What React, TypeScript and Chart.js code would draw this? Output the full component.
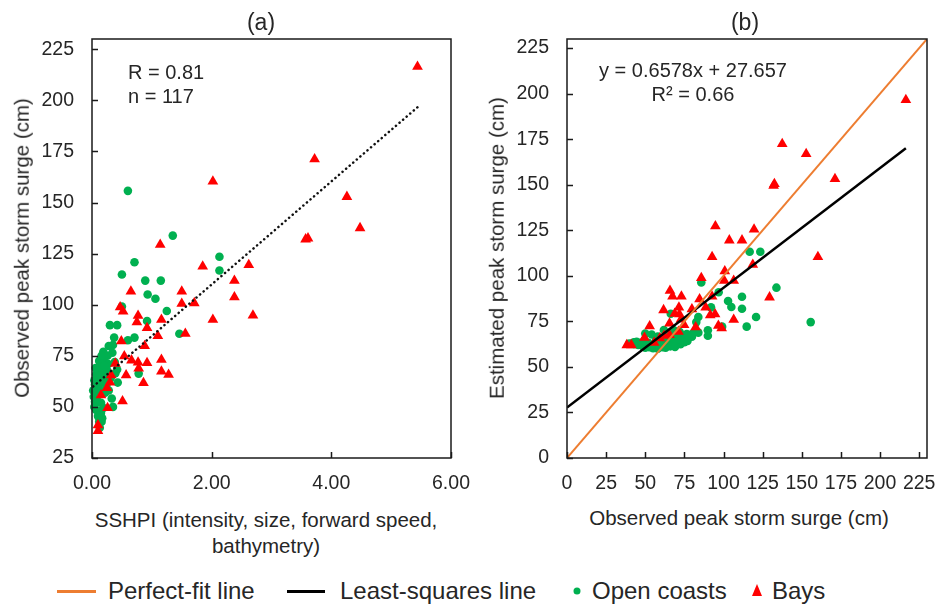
import React, { useEffect, useRef } from 'react';
import { Chart, registerables } from 'chart.js';

Chart.register(...registerables);

const FONT = '"Liberation Sans", Arial, Helvetica, sans-serif';
const INK = '#262626';
const GREEN = '#00B050';
const RED = '#FF0000';
const ORANGE = '#ED7D31';

// Open coasts: storm surge hazard potential index, observed and estimated peak surge (cm)
const openSshpi = [
  0.60, 1.35, 2.13, 2.13, 0.71, 0.50, 0.89, 1.15, 0.93, 1.06,
  1.25, 0.50, 0.92, 0.30, 0.42, 1.46, 0.37, 0.60, 0.71, 0.28,
  0.35, 0.19, 0.34, 0.26, 0.12, 0.20, 0.27, 0.38, 0.42, 0.78,
  0.25, 0.07, 0.12, 0.18, 0.43, 0.05, 0.10, 0.18, 0.22, 0.05,
  0.12, 0.08, 0.33, 0.05, 0.09, 0.15, 0.35, 0.07, 0.12, 0.15,
  0.12, 0.16, 0.13, 0.17, 0.04, 0.22, 0.28, 0.03, 0.14, 0.31,
  0.09, 0.21, 0.16, 0.04, 0.24, 0.10, 0.19, 0.06, 0.39, 0.02,
];
const openObserved = [
  155.7, 133.8, 123.5, 116.7, 120.8, 114.8, 111.8, 111.8, 105.0, 102.9,
  96.9, 99.1, 92.0, 90.0, 90.0, 85.8, 83.9, 82.6, 83.9, 79.8,
  80.3, 77.0, 76.5, 75.0, 72.5, 73.5, 71.0, 72.0, 68.3, 66.3,
  68.0, 66.0, 67.0, 65.5, 61.9, 61.0, 61.5, 62.0, 63.5, 58.7,
  58.7, 56.0, 54.1, 52.5, 53.0, 52.0, 50.0, 48.5, 48.0, 47.0,
  42.7, 42.7, 39.8, 44.5, 50.0, 57.0, 58.0, 55.0, 69.5, 64.0,
  64.5, 70.0, 75.0, 63.0, 60.5, 45.5, 49.5, 69.0, 66.5, 58.0,
];
const openEstimated = [
  74.6, 93.5, 113.2, 113.2, 77.4, 72.1, 81.9, 88.5, 82.9, 86.2,
  91.0, 72.1, 82.7, 67.1, 70.1, 96.3, 68.8, 74.6, 77.4, 66.6,
  68.3, 64.3, 68.1, 66.1, 62.5, 64.5, 66.3, 69.1, 70.1, 79.2,
  65.8, 61.3, 62.5, 64.0, 70.3, 60.8, 62.0, 64.0, 65.0, 60.8,
  62.5, 61.5, 67.8, 60.8, 61.8, 63.3, 68.3, 61.3, 62.5, 63.3,
  62.5, 63.5, 62.8, 63.8, 60.5, 65.0, 66.6, 60.3, 63.0, 67.3,
  61.8, 64.8, 63.5, 60.5, 65.6, 62.0, 64.3, 61.0, 69.3, 60.0,
];

// Bays
const baySshpi = [
  5.44, 3.72, 2.02, 4.26, 4.48, 3.57, 3.61, 1.14, 1.85, 2.62,
  2.38, 0.65, 1.50, 2.38, 1.50, 1.71, 0.47, 0.52, 2.69, 0.77,
  0.75, 1.16, 2.02, 0.92, 1.56, 1.10, 0.49, 0.88, 0.54, 0.66,
  1.16, 0.77, 0.92, 0.39, 0.78, 1.16, 1.28, 0.57, 0.32, 0.86,
  0.25, 0.15, 0.51, 0.26, 0.10, 0.10, 0.30,
];
const bayObserved = [
  216.5, 171.2, 160.3, 152.8, 137.5, 132.0, 132.5, 129.4, 118.7, 119.5,
  111.8, 106.5, 106.5, 103.7, 100.5, 100.8, 98.8, 96.7, 94.8, 94.6,
  91.5, 92.7, 92.7, 88.6, 85.8, 84.7, 82.2, 79.8, 74.8, 72.8,
  73.1, 71.8, 71.5, 71.2, 68.8, 67.4, 65.8, 65.5, 65.5, 61.7,
  59.3, 55.7, 52.8, 49.5, 41.1, 38.2, 62.0,
];
const bayEstimated = [
  196.6, 153.2, 110.4, 166.9, 172.4, 149.5, 150.5, 88.2, 106.1, 125.5,
  119.5, 75.9, 97.3, 119.5, 97.3, 102.6, 71.3, 72.6, 127.3, 78.9,
  78.4, 88.7, 110.4, 82.7, 98.8, 87.2, 71.8, 81.7, 73.1, 76.1,
  88.7, 78.9, 82.7, 69.3, 79.2, 88.7, 91.8, 73.9, 67.6, 81.2,
  65.8, 63.3, 72.4, 66.1, 62.0, 62.0, 67.1,
];

// Linear trend of observed surge against SSHPI
const trendSshpi = [0.02, 5.44];
const trendSurge = [60.0, 196.6];

// Least-squares fit of estimated against observed surge
const lsSlope = 0.6578;
const lsIntercept = 27.657;
const lsRange = [0, 216.5];
const perfectRange = [0, 230];

const sshpiTicks = [0, 2, 4, 6];
const surgeTicksA = [25, 50, 75, 100, 125, 150, 175, 200, 225];
const surgeTicksB = [0, 25, 50, 75, 100, 125, 150, 175, 200, 225];

const pairs = (xs: number[], ys: number[]) => xs.map((x, i) => ({ x, y: ys[i] }));

// Plot box with short inward tick marks
const framePlugin = {
  id: 'frame',
  afterDraw(chart: any) {
    const { ctx, chartArea } = chart;
    const { left, right, top, bottom } = chartArea;
    const xs = chart.scales.x;
    const ys = chart.scales.y;
    ctx.save();
    ctx.strokeStyle = '#1a1a1a';
    ctx.lineWidth = 1.5;
    ctx.strokeRect(left, top, right - left, bottom - top);
    ctx.beginPath();
    xs.ticks.forEach((t: any) => {
      const px = Math.round(xs.getPixelForValue(t.value)) + 0.5;
      ctx.moveTo(px, bottom);
      ctx.lineTo(px, bottom - 6);
    });
    ys.ticks.forEach((t: any) => {
      const py = Math.round(ys.getPixelForValue(t.value)) + 0.5;
      ctx.moveTo(left, py);
      ctx.lineTo(left + 6, py);
    });
    ctx.stroke();
    ctx.restore();
  },
};

function axis(kind: 'x' | 'y', min: number, max: number, ticks: number[], fmt: (v: number) => string) {
  return {
    type: 'linear',
    min,
    max,
    afterBuildTicks: (s: any) => {
      s.ticks = ticks.map((v) => ({ value: v }));
    },
    afterFit: (s: any) => {
      // fixed axis band sizes so the plot box sits where the layout padding puts it
      if (kind === 'x') s.height = 40;
      else s.width = 60;
      s.paddingLeft = 0;
      s.paddingRight = 0;
      s.paddingTop = 0;
      s.paddingBottom = 0;
    },
    grid: { display: false, drawTicks: false },
    border: { display: false },
    ticks: {
      color: INK,
      font: { family: FONT, size: 19.5 },
      padding: kind === 'x' ? 14 : 18,
      autoSkip: false,
      maxRotation: 0,
      minRotation: 0,
      callback: (v: any) => fmt(Number(v)),
    },
  };
}

function scatterSet(data: any[], style: string, color: string, radius: number, order: number) {
  return {
    data,
    showLine: false,
    pointStyle: style,
    pointRadius: radius,
    pointBackgroundColor: color,
    pointBorderWidth: 0,
    backgroundColor: color,
    borderWidth: 0,
    clip: false,
    order,
  };
}

function lineSet(data: any[], color: string, width: number, order: number, dash?: number[]) {
  return {
    data,
    showLine: true,
    borderColor: color,
    borderWidth: width,
    borderDash: dash || [],
    borderCapStyle: dash ? 'round' : 'butt',
    pointRadius: 0,
    fill: false,
    order,
  };
}

function baseOptions(padding: any, scales: any) {
  return {
    responsive: false,
    animation: false,
    events: [],
    layout: { padding },
    plugins: { legend: { display: false }, tooltip: { enabled: false } },
    scales,
  };
}

function SshpiChart() {
  const ref = useRef<HTMLCanvasElement>(null);
  useEffect(() => {
    const chart = new Chart(ref.current as HTMLCanvasElement, {
      type: 'scatter',
      data: {
        datasets: [
          lineSet(pairs(trendSshpi, trendSurge), '#111', 2.5, 0, [0.1, 4.6]),
          scatterSet(pairs(baySshpi, bayObserved), 'triangle', RED, 6.2, 1),
          scatterSet(pairs(openSshpi, openObserved), 'circle', GREEN, 4.3, 2),
        ],
      } as any,
      options: baseOptions({ left: 32, top: 39, right: 29, bottom: 2 }, {
        x: axis('x', 0, 6, sshpiTicks, (v) => v.toFixed(2)),
        y: axis('y', 25, 230, surgeTicksA, (v) => String(v)),
      }) as any,
      plugins: [framePlugin],
    });
    return () => chart.destroy();
  }, []);
  return <canvas ref={ref} width={480} height={500} style={{ position: 'absolute', left: 0, top: 0 }} />;
}

function EstimateChart() {
  const ref = useRef<HTMLCanvasElement>(null);
  useEffect(() => {
    const lsData = lsRange.map((x) => ({ x, y: lsSlope * x + lsIntercept }));
    const perfectData = perfectRange.map((v) => ({ x: v, y: v }));
    const chart = new Chart(ref.current as HTMLCanvasElement, {
      type: 'scatter',
      data: {
        datasets: [
          lineSet(perfectData, ORANGE, 2, 0),
          lineSet(lsData, '#000', 2.5, 1),
          scatterSet(pairs(bayObserved, bayEstimated), 'triangle', RED, 6.2, 2),
          scatterSet(pairs(openObserved, openEstimated), 'circle', GREEN, 4.3, 3),
        ],
      } as any,
      options: baseOptions({ left: 27, top: 39, right: 12, bottom: 2 }, {
        x: axis('x', 0, 230, surgeTicksB, (v) => String(v)),
        y: axis('y', 0, 230, surgeTicksB, (v) => String(v)),
      }) as any,
      plugins: [framePlugin],
    });
    return () => chart.destroy();
  }, []);
  return <canvas ref={ref} width={459} height={500} style={{ position: 'absolute', left: 480, top: 0 }} />;
}

const text = (extra: React.CSSProperties): React.CSSProperties => ({
  position: 'absolute',
  fontFamily: FONT,
  color: INK,
  whiteSpace: 'nowrap',
  lineHeight: 1,
  ...extra,
});

const centered = (x: number, y: number, size: number, rotate = 0): React.CSSProperties =>
  text({
    left: x,
    top: y,
    fontSize: size,
    transform: `translate(-50%, -50%)${rotate ? ` rotate(${rotate}deg)` : ''}`,
  });

const legendText = (x: number, y: number): React.CSSProperties =>
  text({ left: x, top: y, fontSize: 24, transform: 'translateY(-50%)' });

export default function App() {
  const legendY = 591;
  return (
    <div style={{ position: 'absolute', left: 0, top: 0, width: 939, height: 608, background: '#fff', overflow: 'hidden' }}>
      <SshpiChart />
      <EstimateChart />

      <div style={centered(261, 22, 23)}>(a)</div>
      <div style={centered(745, 22, 23)}>(b)</div>

      <div style={text({ left: 128, top: 62, fontSize: 20 })}>R = 0.81</div>
      <div style={text({ left: 128, top: 86, fontSize: 20 })}>n = 117</div>

      <div style={centered(693, 70, 20)}>y = 0.6578x + 27.657</div>
      <div style={centered(693, 94, 20)}>R² = 0.66</div>

      <div style={centered(22, 248, 20.5, -90)}>Observed peak storm surge (cm)</div>
      <div style={centered(497, 248, 20.5, -90)}>Estimated peak storm surge (cm)</div>

      <div style={centered(266, 520, 20.5)}>SSHPI (intensity, size, forward speed,</div>
      <div style={centered(266, 546, 20.5)}>bathymetry)</div>
      <div style={centered(739, 518, 20.5)}>Observed peak storm surge (cm)</div>

      <div style={{ position: 'absolute', left: 57, top: legendY - 1, width: 39, height: 2.5, background: ORANGE }} />
      <div style={legendText(108, legendY)}>Perfect-fit line</div>
      <div style={{ position: 'absolute', left: 287, top: legendY - 1, width: 38, height: 3, background: '#000' }} />
      <div style={legendText(340, legendY)}>Least-squares line</div>
      <svg style={{ position: 'absolute', left: 572, top: legendY - 5 }} width={10} height={10}>
        <circle cx={5} cy={5} r={3.5} fill={GREEN} />
      </svg>
      <div style={legendText(592, legendY)}>Open coasts</div>
      <svg style={{ position: 'absolute', left: 752, top: legendY - 7 }} width={10} height={13}>
        <polygon points="5,0 10,12 0,12" fill={RED} />
      </svg>
      <div style={legendText(772, legendY)}>Bays</div>
    </div>
  );
}
